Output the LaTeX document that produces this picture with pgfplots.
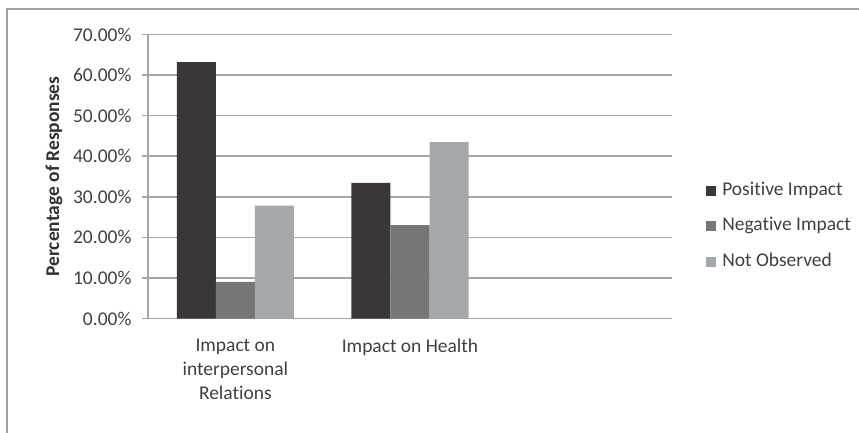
\documentclass[border=0pt]{standalone}
\usepackage{pgfplots}
\pgfplotsset{compat=1.18}
\usepackage{fontspec}
\setmainfont{Carlito}[Ligatures=NoCommon]

\definecolor{posc}{RGB}{58,54,57}
\definecolor{negc}{RGB}{118,118,119}
\definecolor{nobc}{RGB}{165,168,171}
\definecolor{gridc}{RGB}{166,166,166}
\definecolor{framec}{RGB}{160,160,160}
\definecolor{textc}{RGB}{64,64,64}

\newcommand\chartfont{\fontsize{14.6}{18.2}\selectfont}

\begin{document}
\begin{tikzpicture}
\useasboundingbox (0pt,0pt) rectangle (644.25pt,324pt);
% outer chart frame (right and bottom edges fall outside the page)
\begin{scope}
  \clip (0pt,0pt) rectangle (644.25pt,324pt);
  \draw[framec, line width=1.1pt] (5.25pt,-20pt) rectangle (680pt,317.25pt);
\end{scope}
\begin{axis}[
  at={(111pt,85.125pt)}, anchor=south west,
  scale only axis, width=393pt, height=213pt,
  ybar=0pt, bar width=0.2235,
  xmin=-0.5, xmax=2.5, ymin=0, ymax=70,
  axis lines*=left,
  axis line style={gridc, line width=1.1pt, -},
  xtick={0,1,2},
  xticklabels={{Impact on\\interpersonal\\Relations},{Impact on Health},{}},
  xtick style={draw=none},
  xticklabel style={align=center, font=\chartfont, text=textc, yshift=-7pt},
  ytick distance=10,
  ytick style={gridc, line width=1.1pt},
  tick align=outside, major tick length=4.5pt,
  ymajorgrids, grid style={gridc, line width=1.1pt},
  /pgf/number format/assume math mode=true,
  yticklabel={\pgfmathprintnumber[fixed,fixed zerofill,precision=2]{\tick}\%},
  yticklabel style={font=\chartfont, text=textc, xshift=-4.4pt},
  ylabel={Percentage of Responses},
  every axis y label/.style={at={(axis description cs:-0.1794,0.5)}, rotate=90, anchor=center,
    font=\chartfont\bfseries, text={rgb,255:red,48;green,48;blue,48}},
  legend style={at={(axis description cs:1.0649,0.325)}, anchor=west,
    draw=none, fill=none, inner sep=0pt, font=\chartfont, text=textc,
    row sep=14.1pt, nodes={inner sep=0pt, text height=9.5pt, text depth=3pt},
    /tikz/every odd column/.append style={column sep=4.5pt}},
  legend cell align=left,
  legend image code/.code={\fill[#1,draw=none] (0pt,-3.75pt) rectangle (7.5pt,3.75pt);},
]
\addplot[fill=posc, draw=none] coordinates {(0,63.2) (1,33.4)};
\addplot[fill=negc, draw=none] coordinates {(0,9.0) (1,23.0)};
\addplot[fill=nobc, draw=none] coordinates {(0,27.8) (1,43.5)};
\legend{Positive Impact, Negative Impact, Not Observed}
\end{axis}
\end{tikzpicture}
\end{document}
